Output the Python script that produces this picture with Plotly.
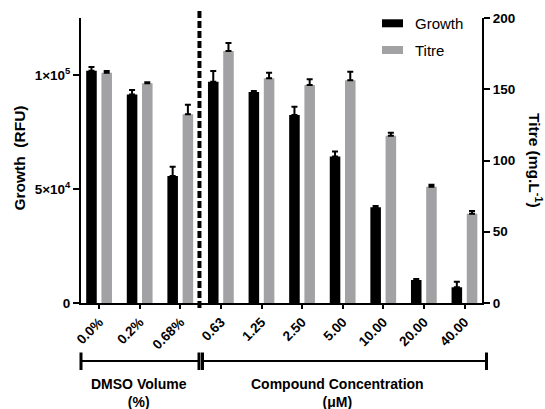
import plotly.graph_objects as go

# Treatment groups along the x axis
categories = ["0.0%", "0.2%", "0.68%", "0.63", "1.25", "2.50", "5.00", "10.00", "20.00", "40.00"]

# Growth (RFU), left axis
growth = [101900, 91500, 55700, 97000, 92500, 82500, 64200, 42000, 10100, 6900]
growth_err = [1600, 1900, 4100, 4800, 500, 3600, 2200, 500, 400, 2400]

# Titre (mg/L), right axis
titre = [161.6, 154.2, 132.4, 176.8, 157.7, 153.0, 156.3, 117.4, 81.6, 62.7]
titre_err = [1.2, 0.8, 6.8, 5.7, 3.9, 4.0, 6.0, 2.1, 1.3, 1.9]

left_ticks = [0, 50000, 100000]
left_ticktext = ["0", "5×10<sup>4</sup>", "1×10<sup>5</sup>"]
right_ticks = [0, 50, 100, 150, 200]

FONT = "Liberation Sans, Arial, sans-serif"
GREY = "#a2a2a5"

W, H = 545, 409
L, R, T, B = 81, 63, 18, 106
PW, PH = W - L - R, H - T - B


def px(x):
    return (x - L) / PW


def py(y):
    return (H - B - y) / PH


fig = go.Figure()

fig.add_trace(go.Bar(
    x=categories, y=growth, name="Growth",
    marker=dict(color="black", line=dict(width=0)),
    width=0.26, offset=-0.32,
    error_y=dict(type="data", array=growth_err, arrayminus=[0] * len(growth_err),
                 symmetric=False, color="black", thickness=2, width=3),
    yaxis="y", showlegend=False,
))
fig.add_trace(go.Bar(
    x=categories, y=titre, name="Titre",
    marker=dict(color=GREY, line=dict(width=0)),
    width=0.26, offset=0.055,
    error_y=dict(type="data", array=titre_err, arrayminus=[0] * len(titre_err),
                 symmetric=False, color="black", thickness=2, width=3),
    yaxis="y2", showlegend=False,
))

axis_common = dict(showline=True, linewidth=2, linecolor="black", ticks="outside",
                   tickwidth=2, tickcolor="black", showgrid=False, zeroline=False,
                   tickfont=dict(family=FONT, size=13.5, color="black", weight="bold"))

fig.update_layout(
    width=W, height=H,
    margin=dict(l=L, r=R, t=T, b=B, pad=0),
    paper_bgcolor="white", plot_bgcolor="white",
    barmode="overlay",
    xaxis=dict(**axis_common, ticklen=4, tickangle=-45, range=[-0.448, 9.43],
               type="category"),
    yaxis=dict(**axis_common, ticklen=6, range=[0, 125000],
               tickvals=left_ticks, ticktext=left_ticktext),
    yaxis2=dict(**axis_common, ticklen=6, range=[0, 200], tickvals=right_ticks,
                overlaying="y", side="right", anchor="x"),
)

shapes = []
# vertical dashed separator between DMSO controls and compound doses
shapes.append(dict(type="line", xref="x", yref="paper", x0=2.47, x1=2.47,
                   y0=py(308), y1=py(10), line=dict(color="black", width=4, dash="7px,3px")))

# group brackets below the axis
by = py(361)
for x0, x1 in [(81, 199), (202.5, 486.5)]:
    shapes.append(dict(type="line", xref="paper", yref="paper", x0=px(x0), x1=px(x1),
                       y0=by, y1=by, line=dict(color="black", width=2)))
    for xc in (x0, x1):
        shapes.append(dict(type="line", xref="paper", yref="paper", x0=px(xc), x1=px(xc),
                           y0=py(352.5), y1=py(370), line=dict(color="black", width=3)))

# legend swatches
shapes.append(dict(type="rect", xref="paper", yref="paper", x0=px(382), x1=px(403),
                   y0=py(27.3), y1=py(19.3), fillcolor="black", line=dict(width=0)))
shapes.append(dict(type="rect", xref="paper", yref="paper", x0=px(382), x1=px(403),
                   y0=py(54), y1=py(46), fillcolor=GREY, line=dict(width=0)))

annotations = [
    dict(text="Growth", x=px(413), y=py(23.3), xanchor="left", yanchor="middle",
         font=dict(family=FONT, size=15, color="black")),
    dict(text="Titre", x=px(413), y=py(50), xanchor="left", yanchor="middle",
         font=dict(family=FONT, size=15, color="black")),
    dict(text="Growth  (RFU)", x=px(18.5), y=py(158), textangle=-90,
         xanchor="center", yanchor="middle",
         font=dict(family=FONT, size=15.5, color="black", weight="bold")),
    dict(text="Titre (mg.L<sup>-1</sup>)", x=px(535), y=py(160), textangle=90,
         xanchor="center", yanchor="middle",
         font=dict(family=FONT, size=15.5, color="black", weight="bold")),
    dict(text="DMSO Volume<br>(%)", x=px(139), y=py(374), xanchor="center", yanchor="top",
         font=dict(family=FONT, size=14, color="black", weight="bold")),
    dict(text="Compound Concentration<br>(μM)", x=px(337.5), y=py(374), xanchor="center",
         yanchor="top", font=dict(family=FONT, size=14, color="black", weight="bold")),
]
for a in annotations:
    a.update(xref="paper", yref="paper", showarrow=False)

fig.update_layout(shapes=shapes, annotations=annotations)

fig.write_html("out.html")
